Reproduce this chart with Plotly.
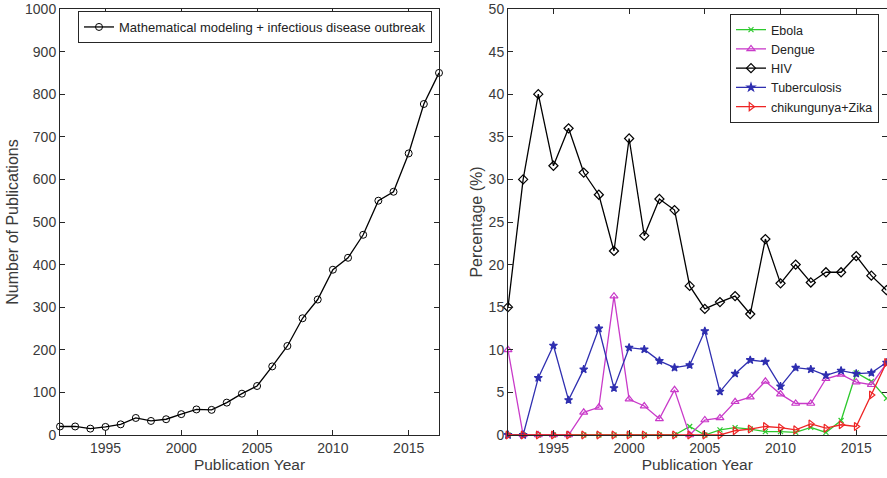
import plotly.graph_objects as go

years = list(range(1992, 2018))
publications = [20, 20, 15, 19, 25, 40, 33, 37, 49, 60, 59, 76, 97, 115, 161, 209,
                274, 318, 388, 416, 470, 550, 571, 661, 777, 850]

ebola = [0, 0, 0, 0, 0, 0, 0, 0, 0, 0, 0, 0, 1.0, 0, 0.6, 0.86, 0.7, 0.4, 0.4, 0.3,
         0.9, 0.3, 1.7, 7.3, 6.3, 4.3]
dengue = [10, 0, 0, 0, 0, 2.66, 3.25, 16.3, 4.2, 3.4, 1.9, 5.3, 0, 1.76, 2.0, 3.9,
          4.45, 6.3, 4.8, 3.7, 3.7, 6.6, 7.1, 6.2, 5.9, 8.4]
hiv = [15, 30, 40, 31.6, 36, 30.8, 28.2, 21.6, 34.8, 23.4, 27.7, 26.4, 17.5, 14.8,
       15.6, 16.3, 14.2, 23, 17.8, 20, 17.9, 19.1, 19.1, 21, 18.7, 17]
tuberculosis = [0, 0, 6.7, 10.5, 4.1, 7.7, 12.5, 5.5, 10.25, 10.05, 8.7, 7.9, 8.2,
                12.2, 5.1, 7.2, 8.8, 8.6, 5.7, 7.9, 7.7, 7.0, 7.55, 7.2, 7.3, 8.5]
chik_zika = [0, 0, 0, 0, 0, 0, 0, 0, 0, 0, 0, 0, 0, 0, 0, 0.5, 0.7, 1.0, 0.86, 0.6,
             1.3, 0.8, 1.2, 1.0, 4.7, 8.5]

x_ticks = [1995, 2000, 2005, 2010, 2015]

FONT = "Liberation Sans, Arial, Helvetica, sans-serif"
TXT = "#3a3a3a"
FRAME = "#262626"

W, H = 887, 478

fig = go.Figure()

fig.add_trace(go.Scatter(
    x=years, y=publications, mode="lines+markers",
    name="Mathematical modeling + infectious disease outbreak",
    line=dict(color="black", width=1.3),
    marker=dict(symbol="circle-open", size=7, color="black", line=dict(width=1)),
    cliponaxis=False, xaxis="x", yaxis="y", legend="legend"))

series = [
    ("Ebola", ebola, "#2ec92e", "x-thin-open", 5),
    ("Dengue", dengue, "#c93ac9", "triangle-up-open", 7),
    ("HIV", hiv, "black", "diamond-open", 7),
    ("Tuberculosis", tuberculosis, "#2f2fb0", "star", 6),
    ("chikungunya+Zika", chik_zika, "#ee2525", "triangle-right-open", 7),
]
for name, vals, col, sym, sz in series:
    fig.add_trace(go.Scatter(
        x=years, y=vals, mode="lines+markers", name=name,
        line=dict(color=col, width=1.3),
        marker=dict(symbol=sym, size=sz, color=col, line=dict(width=1.2, color=col)),
        cliponaxis=False, xaxis="x2", yaxis="y2", legend="legend2"))

axis_common = dict(
    showline=True, linecolor=FRAME, linewidth=1, mirror="ticks",
    ticks="inside", ticklen=5, tickcolor=FRAME, showgrid=False, zeroline=False,
    automargin=False,
    tickfont=dict(family=FONT, size=14, color=TXT),
)
xtitle_font = dict(family=FONT, size=15.5, color=TXT)
ytitle_font = dict(family=FONT, size=16, color=TXT)

fig.update_layout(
    width=W, height=H,
    margin=dict(l=0, r=0, t=0, b=0, autoexpand=False),
    paper_bgcolor="white", plot_bgcolor="white",
    font=dict(family=FONT, color=TXT),
    xaxis=dict(domain=[60/W, 439/W], range=[1992, 2017], tickvals=x_ticks,
               title=dict(text="Publication Year", standoff=4, font=xtitle_font),
               anchor="y", **axis_common),
    yaxis=dict(domain=[1-435/H, 1-9/H], range=[0, 1000], dtick=100,
               title=dict(text="Number of Publications", standoff=2, font=ytitle_font),
               anchor="x", **axis_common),
    xaxis2=dict(domain=[508/W, 886.5/W], range=[1992, 2017], tickvals=x_ticks,
                title=dict(text="Publication Year", standoff=4, font=xtitle_font),
                anchor="y2", **axis_common),
    yaxis2=dict(domain=[1-435/H, 1-9/H], range=[0, 50], dtick=5,
                title=dict(text="Percentage (%)", standoff=2, font=ytitle_font),
                anchor="x2", **axis_common),
    legend=dict(x=432/W, y=1-11/H, xanchor="right", yanchor="top",
                bordercolor=FRAME, borderwidth=1, bgcolor="white",
                font=dict(family=FONT, size=13, color="#222"),
                itemwidth=30, tracegroupgap=0),
    legend2=dict(x=879/W, y=1-14/H, xanchor="right", yanchor="top",
                 bordercolor=FRAME, borderwidth=1, bgcolor="white",
                 font=dict(family=FONT, size=12.5, color="#222"),
                 itemwidth=30, tracegroupgap=0),
    showlegend=True,
)

fig.write_html("out.html", config={"displayModeBar": False},
               post_script="document.body.style.margin='0';")
